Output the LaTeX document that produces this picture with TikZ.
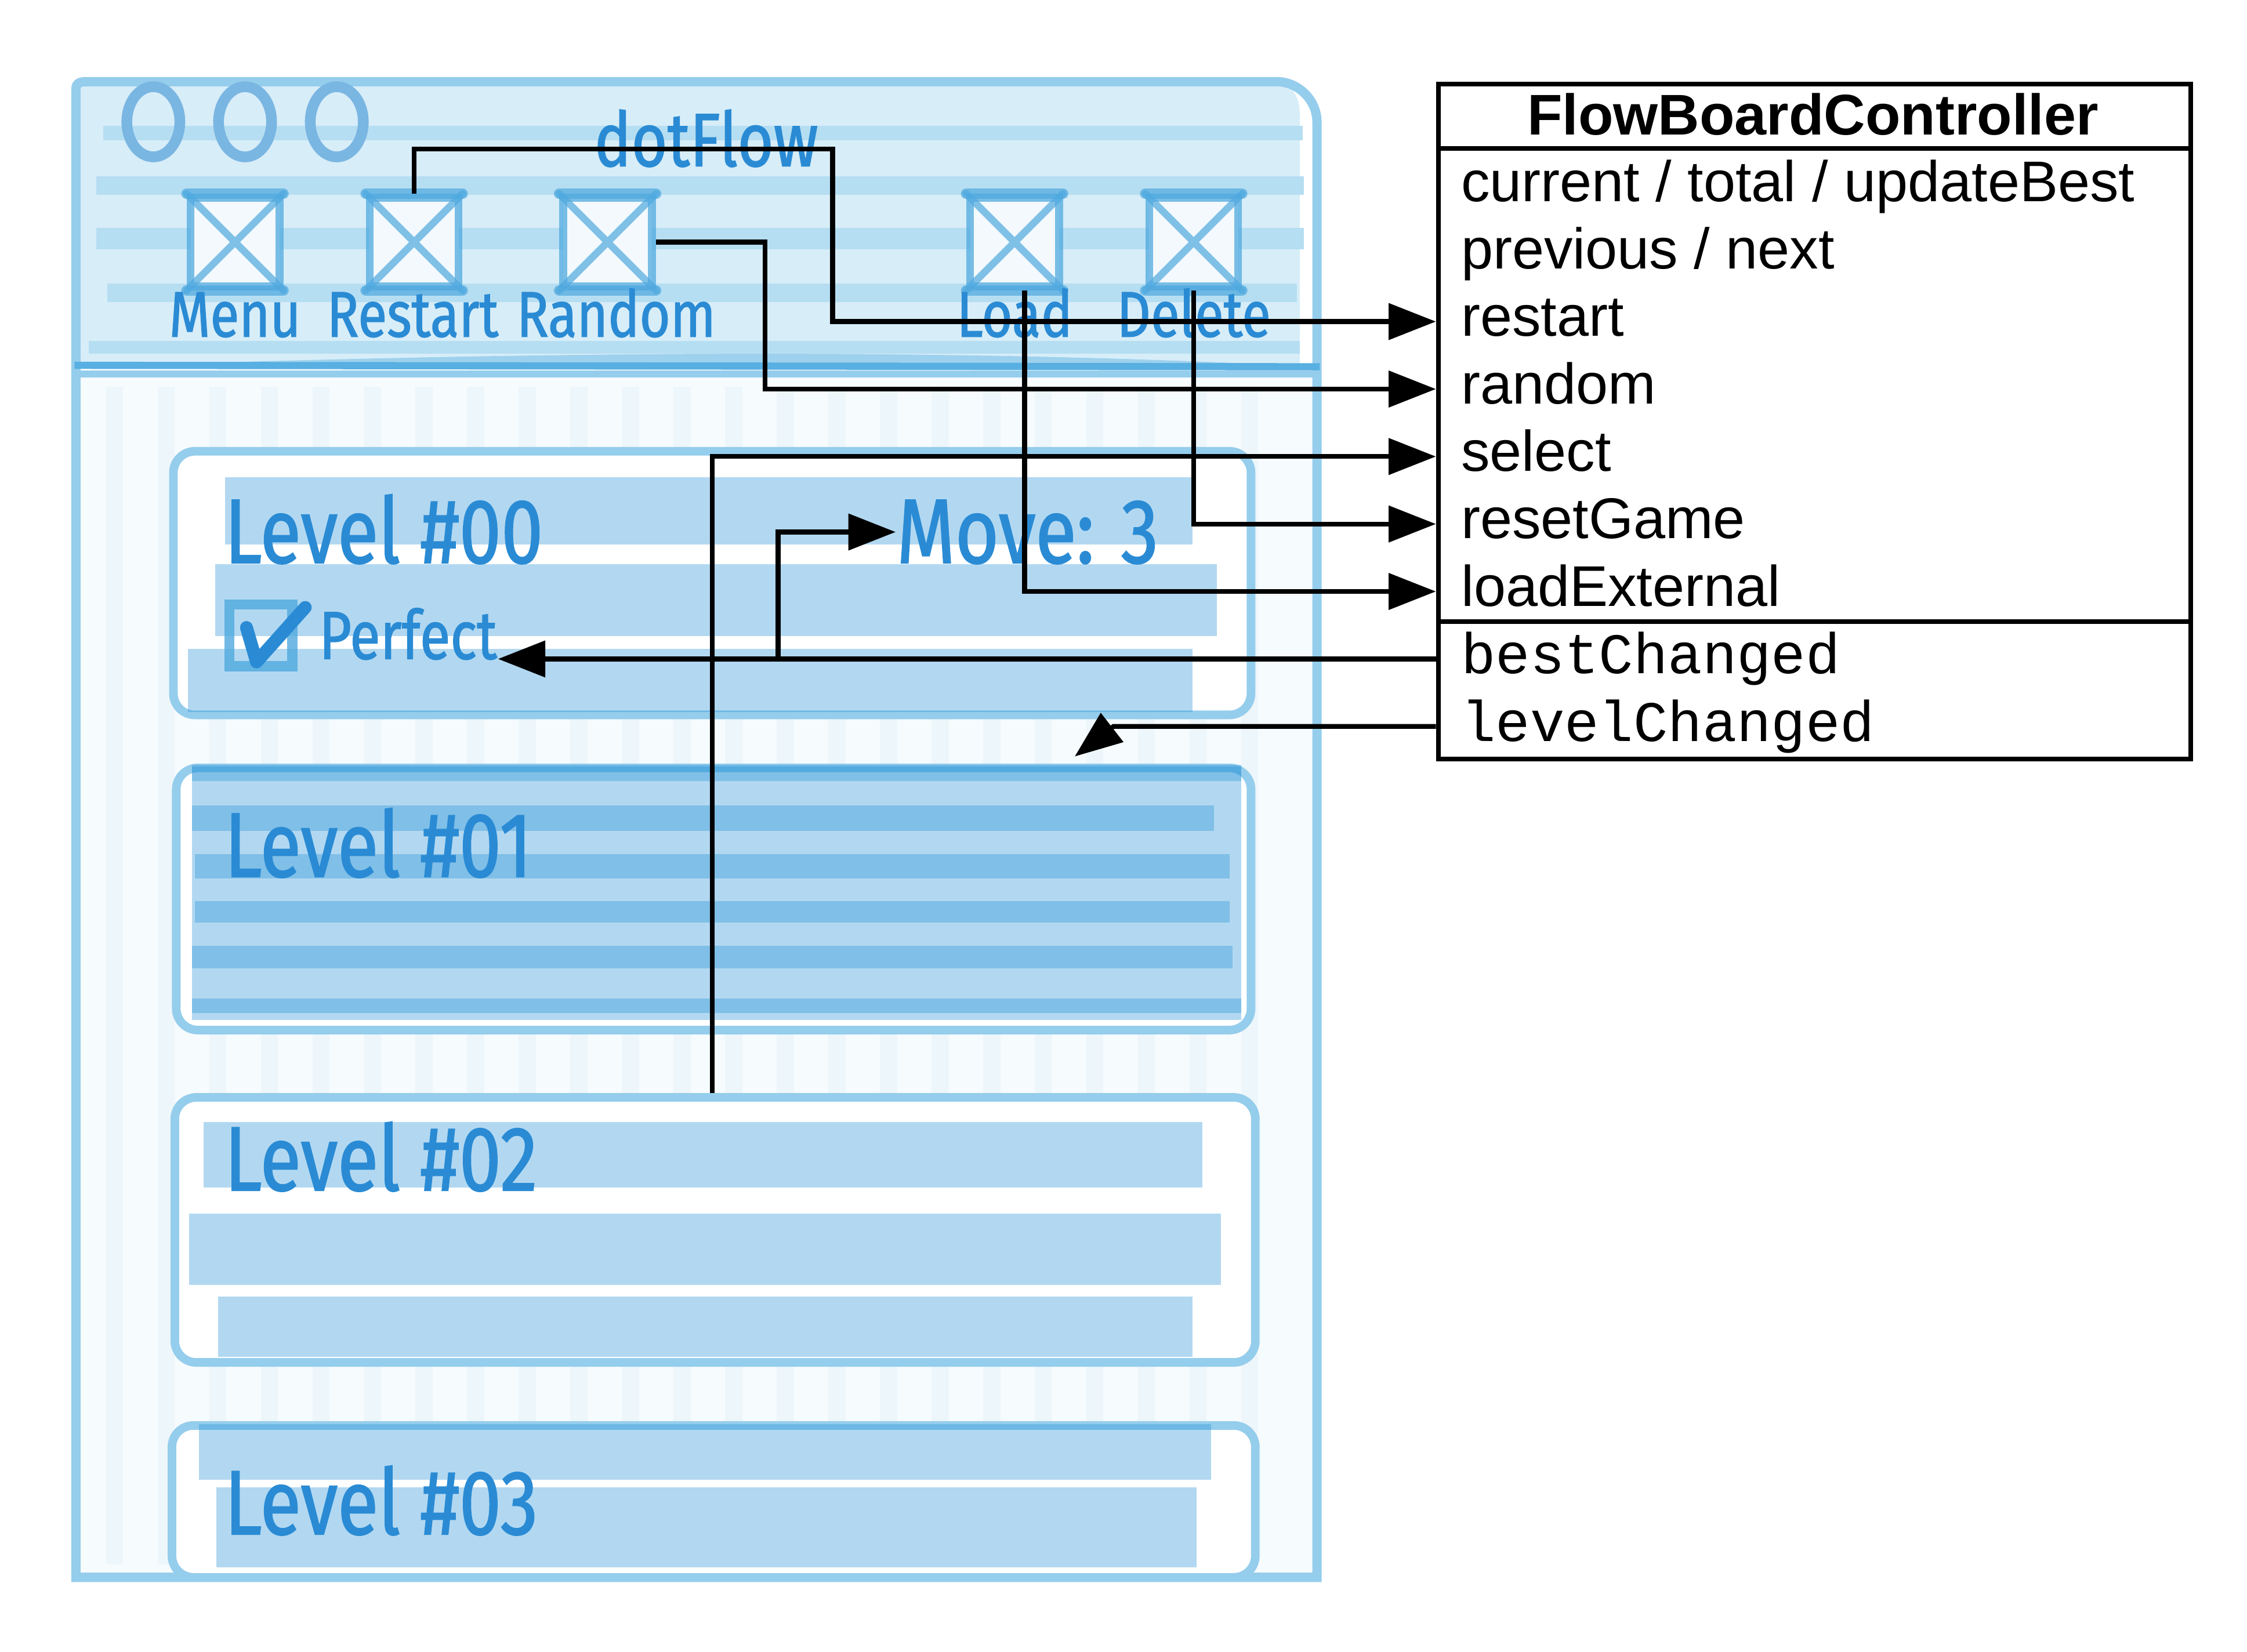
\documentclass[tikz,border=0pt]{standalone}
\usepackage{fontspec}
\usetikzlibrary{arrows.meta}
\newfontfamily\handfont[FakeStretch=0.82,FakeBold=1.2]{Fira Sans}
\newfontfamily\umlsans{Liberation Sans}
\newfontfamily\umlmono{Liberation Mono}

\definecolor{hblue}{HTML}{2A8BD4}
\definecolor{frameblue}{HTML}{95CDEC}
\definecolor{barfill}{HTML}{D7EDF8}
\definecolor{barstripe}{HTML}{B6DEF2}
\definecolor{stripeblue}{HTML}{2392D7}
\definecolor{sepblue}{HTML}{58AFE1}
\definecolor{pane}{HTML}{F6FBFE}
\definecolor{paneline}{HTML}{EDF6FA}
\definecolor{iconblue}{HTML}{4FA9DF}
\definecolor{iconfill}{HTML}{F3F9FD}
\definecolor{lightblue}{HTML}{7AB6E2}

\tikzset{
  conn/.style={line width=0.95pt, -{Triangle[length=3.3mm,width=2.5mm]}},
  frame/.style={draw=frameblue, line width=0.65mm},
  card/.style={draw=frameblue, line width=0.6mm, fill=white, rounded corners=1.5mm, anchor=north west, inner sep=0pt},
  stripe/.style={fill=stripeblue, fill opacity=0.35},
  btn/.style={draw=iconblue, draw opacity=0.75, line width=0.55mm, fill=iconfill, minimum width=6.2mm, minimum height=6.2mm, inner sep=0pt},
  btnx/.style={draw=iconblue, draw opacity=0.7, line width=0.5mm, line cap=round},
  hand/.style={font=\handfont, text=hblue, inner sep=0pt},
  lvl/.style={hand, font=\handfont\fontsize{18.2}{20}\selectfont, anchor=base west},
  lbl/.style={hand, font=\handfont\fontsize{12.8}{15}\selectfont},
  row/.style={anchor=base west, inner xsep=1.7mm, inner ysep=0pt, text height=2.9mm, text depth=0.85mm, font=\umlsans\fontsize{11.4}{13}\selectfont},
  sig/.style={row, font=\umlmono\fontsize{11.4}{13}\selectfont}
}

\begin{document}
\begin{tikzpicture}[x=0.1mm, y=-0.1mm]
\useasboundingbox (0,0) rectangle (1568,1153);

% window background
\fill[pane] (55,258) rectangle (917,1100);
\foreach \x in {74,110,...,900} \fill[paneline] (\x,270) rectangle ++(12,822);
\fill[barfill] (55,57) -- (885,57) .. controls (900,57) and (907,65) .. (907,80) -- (907,256) -- (55,256) -- cycle;
\foreach \a/\y/\b/\z in {72/88/909/98, 67/123/910/136, 67/159/910/174, 75/198/905/211, 62/238/907/247}
  \fill[barstripe] (\a,\y) rectangle (\b,\z);
\fill[sepblue, opacity=.45] (62,256) .. controls (350,246) and (650,242) .. (916,256) -- cycle;

% window frame
\draw[frame] (53,1101) -- (53,62) .. controls (53,58) and (56,57) .. (60,57) -- (891,57) .. controls (906,57) and (919,70) .. (919,85) -- (919,1101) -- cycle;
\draw[sepblue, line width=0.5mm] (52,255) -- (921,256);
\draw[frameblue, line width=0.5mm] (55,261) -- (919,261);
\foreach \x in {107,171,235} \draw[lightblue, line width=0.75mm] (\x,85) ellipse [x radius=18.5, y radius=24.5];

% buttons
\foreach \n/\x/\t/\dx in {bMenu/164/Menu/0, bRestart/289/Restart/-0.1, bRandom/424/Random/0.6, bLoad/708/Load/0, bDelete/833/Delete/0}{
  \node[btn] (\n) at (\x,169) {};
  \draw[btnx] (\n.north west) -- (\n.south east) (\n.north east) -- (\n.south west);
  \draw[btnx, line width=0.75mm] (\n.north west) -- (\n.north east) (\n.south west) -- (\n.south east);
  \node[lbl, anchor=base] at ([xshift=\dx mm, yshift=-6.6mm]\n.center) {\t};
}
\node[hand, font=\handfont\fontsize{15}{17}\selectfont, anchor=base west] (appName) at (414,116) {dotFlow};

% level cards
\node[card, minimum width=75.2mm, minimum height=18.4mm] (card0) at (118,312) {};
\node[card, minimum width=75mm, minimum height=18.3mm] (card1) at (120,533) {};
\node[card, minimum width=75.4mm, minimum height=18.5mm] (card2) at (119,763) {};
\node[card, minimum width=75.6mm, minimum height=10.6mm] (card3) at (117,992) {};

\foreach \a/\y/\b/\z in {157/333/832/380, 150/394/849/444, 131/453/832/497,
    134/534/866/712, 134/535/866/545, 134/562/847/580, 136/596/858/613, 136/629/858/644, 134/660/860/676, 134/697/866/707,
    142/783/839/829, 132/847/852/897, 152/905/832/947,
    139/994/845/1033, 151/1038/835/1094}
  \fill[stripe] (\a,\y) rectangle (\b,\z);

\node[lvl] (lvl0) at (156,393) {Level \#00};
\node[lvl] (move) at (625,393) {Move: 3};
\node[lvl] (lvl1) at (156,612) {Level \#01};
\node[lvl] (lvl2) at (156,831) {Level \#02};
\node[lvl] (lvl3) at (156,1071) {Level \#03};
\node[hand, font=\handfont\fontsize{13.5}{15}\selectfont, anchor=base west] (perfect) at (222,460) {Perfect};
\draw[iconblue, draw opacity=.8, line width=0.7mm] (160,422) rectangle (204,465);
\draw[hblue, line width=0.9mm, line cap=round, line join=round] (172,438) -- (179,462) -- (213,424);

% controller
\node[draw, line width=0.95pt, minimum width=52.5mm, minimum height=47.1mm, anchor=north west, inner sep=0pt] (ctrl) at (1002,57) {};
\draw[line width=0.95pt] (1002,103.7) -- (1527,103.7);
\draw[line width=0.95pt] (1002,434) -- (1527,434);
\node[anchor=base, font=\umlsans\bfseries\fontsize{11.4}{13}\selectfont] (ctrlName) at (1265,94.3) {FlowBoardController};
\node[row] (rCur) at (1002,140.5) {current / total / updateBest};
\node[row] (rPrev) at (1002,187.6) {previous / next};
\node[row] (rRestart) at (1002,234.7) {restart};
\node[row] (rRandom) at (1002,281.8) {random};
\node[row] (rSelect) at (1002,328.9) {select};
\node[row] (rReset) at (1002,376) {resetGame};
\node[row] (rLoad) at (1002,423.1) {loadExternal};
\node[sig] (rBest) at (1002,470.2) {bestChanged};
\node[sig] (rLevel) at (1002,517.3) {levelChanged};

% connectors
\coordinate (kRestart) at (581,104);
\coordinate (kRandom) at (534,0);
\coordinate (kBest) at (543,0);
\coordinate (kLevel) at (750,528);
\draw[conn] (bRestart.north) |- (kRestart) |- (rRestart.west);
\draw[conn] (bRandom.east) -| (kRandom |- rRandom.west) -- (rRandom.west);
\draw[conn] ([xshift=-0.2mm]card2.north) |- (rSelect.west);
\draw[conn] (bDelete.south) |- (rReset.west);
\draw[conn] ([xshift=0.7mm]bLoad.south) |- (rLoad.west);
\draw[conn] (rBest.west) -- (rBest.west -| perfect.east);
\draw[conn] (kBest |- rBest.west) |- (move.west);
\draw[conn] (rLevel.west) -- ++(-225,0) -- (kLevel);
\end{tikzpicture}
\end{document}
